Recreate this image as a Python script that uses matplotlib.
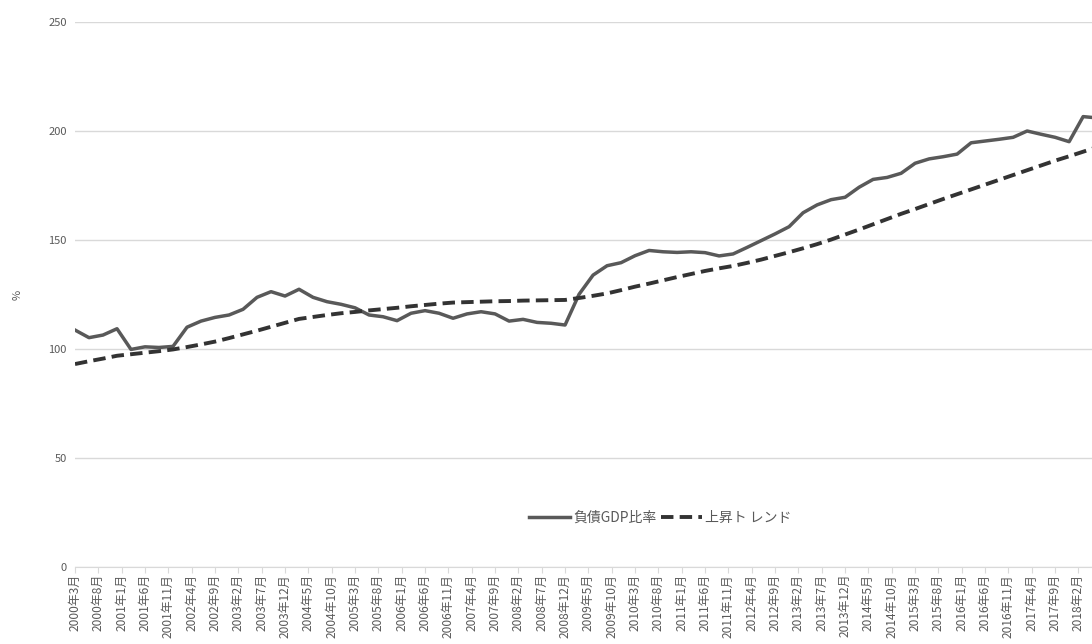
import numpy as np
import matplotlib
matplotlib.use("Agg")
from matplotlib import pyplot as plt

plt.rcParams['font.family'] = ['Noto Sans CJK JP', 'DejaVu Sans']

# quarterly values, 2000年3月 .. 2018年6月
debt_gdp = [108.7, 105.2, 106.4, 109.3, 99.8, 101.0, 100.7, 101.2, 110.0, 112.8,
            114.5, 115.6, 118.2, 123.7, 126.3, 124.3, 127.4, 123.7, 121.7, 120.5,
            118.9, 115.6, 114.8, 113.0, 116.4, 117.6, 116.4, 114.1, 116.1, 117.1,
            116.1, 112.8, 113.6, 112.2, 111.8, 111.0, 125.1, 133.9, 138.2, 139.6,
            142.8, 145.2, 144.6, 144.3, 144.6, 144.2, 142.7, 143.6, 146.6, 149.7,
            152.8, 156.1, 162.5, 166.1, 168.5, 169.6, 174.2, 177.8, 178.7, 180.6,
            185.2, 187.2, 188.2, 189.4, 194.6, 195.4, 196.2, 197.1, 200.0, 198.5,
            197.1, 195.1, 206.6, 206.0]

trend = [93.1, 94.4, 95.6, 96.9, 97.6, 98.3, 99.0, 99.8, 100.9, 102.1,
         103.4, 105.0, 106.7, 108.4, 110.2, 112.0, 113.8, 114.7, 115.6, 116.4,
         117.0, 117.7, 118.3, 118.9, 119.6, 120.2, 120.8, 121.3, 121.5, 121.7,
         121.9, 122.0, 122.2, 122.3, 122.4, 122.5, 123.4, 124.4, 125.5, 127.0,
         128.6, 130.0, 131.5, 133.0, 134.4, 135.8, 137.0, 138.1, 139.5, 141.0,
         142.7, 144.4, 146.2, 148.1, 150.2, 152.5, 154.8, 157.2, 159.6, 162.0,
         164.2, 166.5, 168.8, 171.0, 173.2, 175.4, 177.6, 179.8, 182.0, 184.2,
         186.4, 188.4, 190.5, 192.6]

tick_labels = ["2000年3月", "2000年8月", "2001年1月", "2001年6月", "2001年11月",
               "2002年4月", "2002年9月", "2003年2月", "2003年7月", "2003年12月",
               "2004年5月", "2004年10月", "2005年3月", "2005年8月", "2006年1月",
               "2006年6月", "2006年11月", "2007年4月", "2007年9月", "2008年2月",
               "2008年7月", "2008年12月", "2009年5月", "2009年10月", "2010年3月",
               "2010年8月", "2011年1月", "2011年6月", "2011年11月", "2012年4月",
               "2012年9月", "2013年2月", "2013年7月", "2013年12月", "2014年5月",
               "2014年10月", "2015年3月", "2015年8月", "2016年1月", "2016年6月",
               "2016年11月", "2017年4月", "2017年9月", "2018年2月"]

# positions in months from 2000年3月
months = np.arange(len(debt_gdp)) * 3
tick_pos = np.arange(len(tick_labels)) * 5

fig = plt.figure(figsize=(10.92, 6.44), dpi=100)
ax = fig.add_axes([75 / 1092, 77 / 644, 1 - 75 / 1092, 545 / 644])

grid_col = "#d9d9d9"
text_col = "#595959"

ax.plot(months, debt_gdp, color="#595959", lw=2.5, label="負債GDP比率",
        solid_joinstyle="round", zorder=3)
ax.plot(months, trend, color="#333333", lw=2.8, ls=(0, (3.2, 1.6)),
        label="上昇ト レンド", zorder=3)

ax.set_xlim(0, 217.9)
ax.set_ylim(0, 250)
ax.set_yticks([0, 50, 100, 150, 200, 250])
ax.yaxis.grid(True, color=grid_col, lw=1)
ax.set_axisbelow(True)

ax.set_xticks(tick_pos)
ax.set_xticklabels(tick_labels, rotation=90, fontsize=8.6, color=text_col)
ax.tick_params(axis="x", length=4, color=grid_col, pad=1)
ax.tick_params(axis="y", length=0, labelsize=8, labelcolor=text_col, pad=6)

for s in ["top", "right", "left"]:
    ax.spines[s].set_visible(False)
ax.spines["bottom"].set_color(grid_col)

fig.text(18 / 1092, 1 - 295 / 644, "%", rotation=90, fontsize=8,
         color=text_col, ha="center", va="center")

ax.legend(loc="center", bbox_to_anchor=(660 / 1092, 1 - 518 / 644),
          bbox_transform=fig.transFigure, ncol=2, frameon=False,
          fontsize=10, labelcolor=text_col, handlelength=3.0,
          handletextpad=0.2, columnspacing=0.3)

fig.savefig("out.png", dpi=100)
